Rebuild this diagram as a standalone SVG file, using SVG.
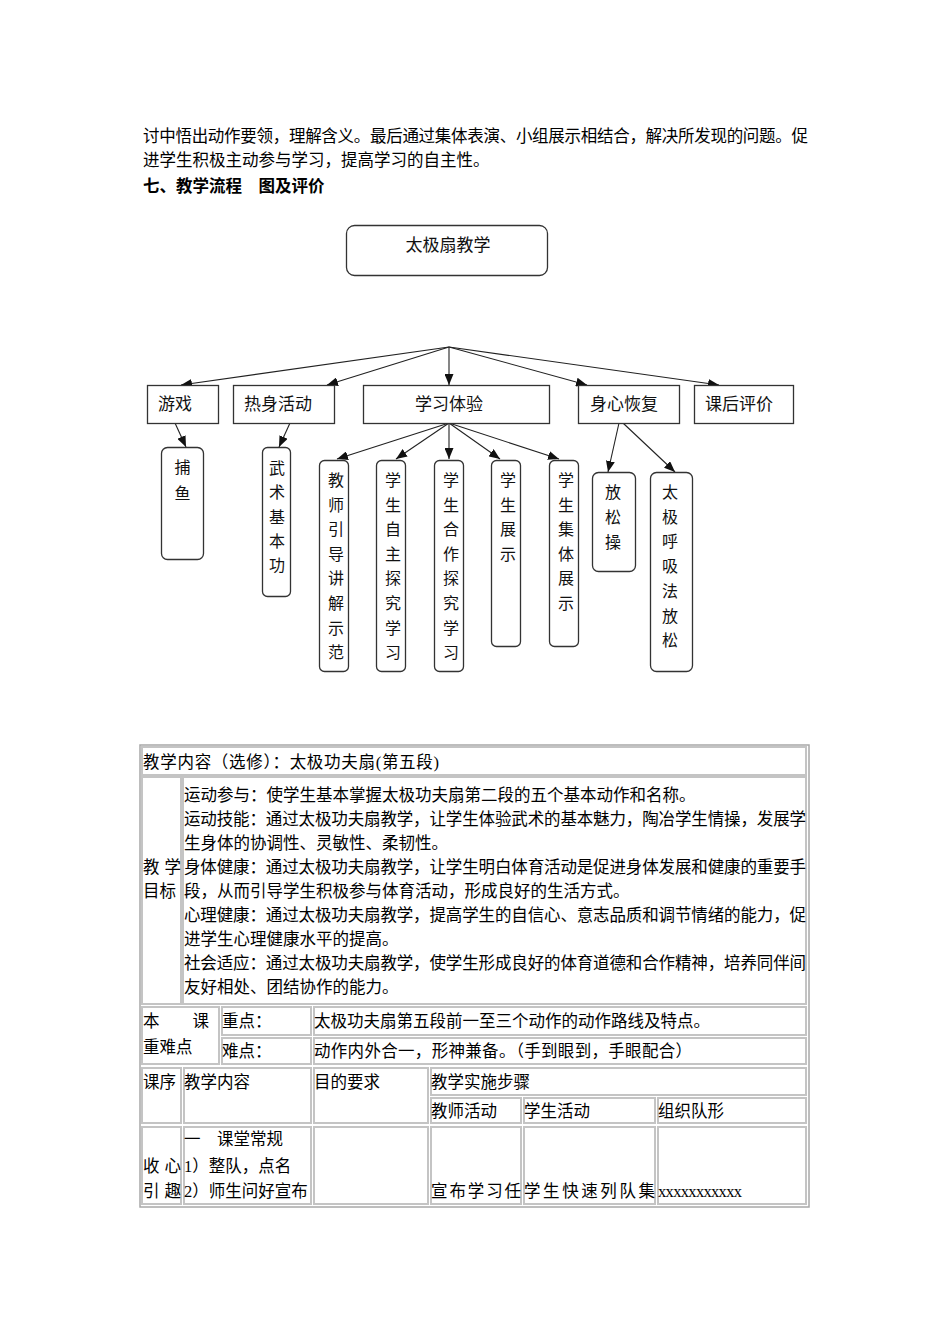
<svg xmlns="http://www.w3.org/2000/svg" width="950" height="1344" viewBox="0 0 950 1344">
<style>
.body{font-family:"Liberation Serif","Noto Sans CJK SC",serif;font-size:16.5px;fill:#000}
.bold{font-weight:bold}
.dg{font-family:"Liberation Sans","Noto Sans CJK SC",sans-serif;font-size:17px;fill:#111}
.vt{font-family:"Liberation Sans","Noto Sans CJK SC",sans-serif;font-size:16px;fill:#111;text-anchor:middle}
.box{fill:#fff;stroke:#333;stroke-width:1.3}
.edge{stroke:#222;stroke-width:1.1;fill:none;marker-end:url(#arr)}
.cell{fill:none;stroke:#c4c4c4;stroke-width:2}
.outer{fill:none;stroke:#a8a8a8;stroke-width:1.5}
</style>
<defs>
<marker id="arr" markerWidth="11" markerHeight="9" refX="11" refY="4.5" orient="auto" markerUnits="userSpaceOnUse">
<path d="M0,0 L11,4.5 L0,9 Z" fill="#111"/>
</marker>
</defs>
<rect width="950" height="1344" fill="#fff"/>

<g id="intro">
<text class="body" x="143" y="142" textLength="665" lengthAdjust="spacing">讨中悟出动作要领，理解含义。最后通过集体表演、小组展示相结合，解决所发现的问题。促</text>
<text class="body" x="143" y="166">进学生积极主动参与学习，提高学习的自主性。</text>
<text class="body bold" x="143" y="192">七、教学流程　图及评价</text>
</g>

<g id="connectors">
<line class="edge" x1="449" y1="347" x2="181" y2="385"/>
<line class="edge" x1="449" y1="347" x2="327" y2="385"/>
<line class="edge" x1="449" y1="347" x2="449" y2="385"/>
<line class="edge" x1="449" y1="347" x2="587" y2="385"/>
<line class="edge" x1="449" y1="347" x2="719" y2="385"/>
<line class="edge" x1="175" y1="423" x2="186" y2="447"/>
<line class="edge" x1="290" y1="423" x2="279" y2="447"/>
<line class="edge" x1="449" y1="423" x2="337" y2="459"/>
<line class="edge" x1="449" y1="423" x2="396" y2="459"/>
<line class="edge" x1="449" y1="423" x2="449" y2="459"/>
<line class="edge" x1="449" y1="423" x2="500" y2="459"/>
<line class="edge" x1="449" y1="423" x2="559" y2="459"/>
<line class="edge" x1="619" y1="423" x2="608" y2="472"/>
<line class="edge" x1="623" y1="423" x2="675" y2="472"/>
</g>

<g id="n-root"><rect class="box" x="346.5" y="225.5" width="201" height="50" rx="8"/><text class="dg" x="448" y="251" text-anchor="middle">太极扇教学</text></g>

<g id="n-youxi"><rect class="box" x="147.5" y="385.5" width="71" height="38"/><text class="dg" x="158" y="410">游戏</text></g>
<g id="n-reshen"><rect class="box" x="233.5" y="385.5" width="101" height="38"/><text class="dg" x="244" y="410">热身活动</text></g>
<g id="n-xuexi"><rect class="box" x="363.5" y="385.5" width="186" height="38"/><text class="dg" x="449" y="410" text-anchor="middle">学习体验</text></g>
<g id="n-shenxin"><rect class="box" x="578.5" y="385.5" width="101" height="38"/><text class="dg" x="590" y="410">身心恢复</text></g>
<g id="n-kehou"><rect class="box" x="694.5" y="385.5" width="99" height="38"/><text class="dg" x="705" y="410">课后评价</text></g>

<g id="n-buyu"><rect class="box" x="161.5" y="447.5" width="42" height="112" rx="6"/><text class="vt" x="182.5" y="473"><tspan x="182.5" dy="0">捕</tspan><tspan x="182.5" dy="26">鱼</tspan></text></g>
<g id="n-wushu"><rect class="box" x="262.5" y="447.5" width="28" height="149" rx="5"/><text class="vt" x="277" y="474"><tspan x="277" dy="0">武</tspan><tspan x="277" dy="24.3">术</tspan><tspan x="277" dy="24.3">基</tspan><tspan x="277" dy="24.3">本</tspan><tspan x="277" dy="24.3">功</tspan></text></g>
<g id="n-jiaoshi"><rect class="box" x="319.5" y="460.5" width="29" height="211" rx="5"/><text class="vt" x="336" y="486"><tspan x="336" dy="0">教</tspan><tspan x="336" dy="24.6">师</tspan><tspan x="336" dy="24.6">引</tspan><tspan x="336" dy="24.6">导</tspan><tspan x="336" dy="24.6">讲</tspan><tspan x="336" dy="24.6">解</tspan><tspan x="336" dy="24.6">示</tspan><tspan x="336" dy="24.6">范</tspan></text></g>
<g id="n-zizhu"><rect class="box" x="376.5" y="460.5" width="29" height="211" rx="5"/><text class="vt" x="393" y="486"><tspan x="393" dy="0">学</tspan><tspan x="393" dy="24.6">生</tspan><tspan x="393" dy="24.6">自</tspan><tspan x="393" dy="24.6">主</tspan><tspan x="393" dy="24.6">探</tspan><tspan x="393" dy="24.6">究</tspan><tspan x="393" dy="24.6">学</tspan><tspan x="393" dy="24.6">习</tspan></text></g>
<g id="n-hezuo"><rect class="box" x="434.5" y="460.5" width="29" height="211" rx="5"/><text class="vt" x="451" y="486"><tspan x="451" dy="0">学</tspan><tspan x="451" dy="24.6">生</tspan><tspan x="451" dy="24.6">合</tspan><tspan x="451" dy="24.6">作</tspan><tspan x="451" dy="24.6">探</tspan><tspan x="451" dy="24.6">究</tspan><tspan x="451" dy="24.6">学</tspan><tspan x="451" dy="24.6">习</tspan></text></g>
<g id="n-zhanshi"><rect class="box" x="491.5" y="460.5" width="29" height="186" rx="5"/><text class="vt" x="508" y="486"><tspan x="508" dy="0">学</tspan><tspan x="508" dy="24.6">生</tspan><tspan x="508" dy="24.6">展</tspan><tspan x="508" dy="24.6">示</tspan></text></g>
<g id="n-jiti"><rect class="box" x="549.5" y="460.5" width="29" height="186" rx="5"/><text class="vt" x="566" y="486"><tspan x="566" dy="0">学</tspan><tspan x="566" dy="24.6">生</tspan><tspan x="566" dy="24.6">集</tspan><tspan x="566" dy="24.6">体</tspan><tspan x="566" dy="24.6">展</tspan><tspan x="566" dy="24.6">示</tspan></text></g>
<g id="n-fangsong"><rect class="box" x="592.5" y="472.5" width="43" height="99" rx="6"/><text class="vt" x="613" y="498"><tspan x="613" dy="0">放</tspan><tspan x="613" dy="25">松</tspan><tspan x="613" dy="25">操</tspan></text></g>
<g id="n-huxi"><rect class="box" x="650.5" y="472.5" width="42" height="199" rx="6"/><text class="vt" x="670" y="498"><tspan x="670" dy="0">太</tspan><tspan x="670" dy="24.7">极</tspan><tspan x="670" dy="24.7">呼</tspan><tspan x="670" dy="24.7">吸</tspan><tspan x="670" dy="24.7">法</tspan><tspan x="670" dy="24.7">放</tspan><tspan x="670" dy="24.7">松</tspan></text></g>

<g id="table">
<rect class="outer" x="140" y="745" width="669" height="462"/>
<rect class="cell" x="142" y="747" width="664" height="28"/>
<rect class="cell" x="142" y="777" width="39" height="227"/>
<rect class="cell" x="183" y="777" width="623" height="227"/>
<rect class="cell" x="142" y="1007" width="77" height="57"/>
<rect class="cell" x="222" y="1007" width="89" height="28"/>
<rect class="cell" x="314" y="1007" width="492" height="28"/>
<rect class="cell" x="222" y="1038" width="89" height="26"/>
<rect class="cell" x="314" y="1038" width="492" height="26"/>
<rect class="cell" x="142" y="1068" width="39" height="55"/>
<rect class="cell" x="184" y="1068" width="127" height="55"/>
<rect class="cell" x="314" y="1068" width="114" height="55"/>
<rect class="cell" x="431" y="1068" width="375" height="27"/>
<rect class="cell" x="431" y="1098" width="90" height="25"/>
<rect class="cell" x="524" y="1098" width="131" height="25"/>
<rect class="cell" x="658" y="1098" width="148" height="25"/>
<rect class="cell" x="142" y="1127" width="39" height="77"/>
<rect class="cell" x="184" y="1127" width="127" height="77"/>
<rect class="cell" x="314" y="1127" width="114" height="77"/>
<rect class="cell" x="431" y="1127" width="90" height="77"/>
<rect class="cell" x="524" y="1127" width="131" height="77"/>
<rect class="cell" x="658" y="1127" width="148" height="77"/>

<text class="body" x="143" y="768" textLength="296" lengthAdjust="spacing">教学内容（选修）：太极功夫扇(第五段)</text>

<text class="body" x="143" y="873" textLength="38" lengthAdjust="spacing">教学</text>
<text class="body" x="143" y="897">目标</text>

<text class="body" x="184" y="801">运动参与：使学生基本掌握太极功夫扇第二段的五个基本动作和名称。</text>
<text class="body" x="184" y="825" textLength="622" lengthAdjust="spacing">运动技能：通过太极功夫扇教学，让学生体验武术的基本魅力，陶冶学生情操，发展学</text>
<text class="body" x="184" y="849">生身体的协调性、灵敏性、柔韧性。</text>
<text class="body" x="184" y="873" textLength="622" lengthAdjust="spacing">身体健康：通过太极功夫扇教学，让学生明白体育活动是促进身体发展和健康的重要手</text>
<text class="body" x="184" y="897">段，从而引导学生积极参与体育活动，形成良好的生活方式。</text>
<text class="body" x="184" y="921" textLength="622" lengthAdjust="spacing">心理健康：通过太极功夫扇教学，提高学生的自信心、意志品质和调节情绪的能力，促</text>
<text class="body" x="184" y="945">进学生心理健康水平的提高。</text>
<text class="body" x="184" y="969" textLength="622" lengthAdjust="spacing">社会适应：通过太极功夫扇教学，使学生形成良好的体育道德和合作精神，培养同伴间</text>
<text class="body" x="184" y="993">友好相处、团结协作的能力。</text>

<text class="body" x="143" y="1027">本　　课</text>
<text class="body" x="143" y="1053">重难点</text>
<text class="body" x="222" y="1027">重点：</text>
<text class="body" x="222" y="1057">难点：</text>
<text class="body" x="314" y="1027">太极功夫扇第五段前一至三个动作的动作路线及特点。</text>
<text class="body" x="314" y="1057" textLength="378" lengthAdjust="spacing">动作内外合一，形神兼备。（手到眼到，手眼配合）</text>

<text class="body" x="143" y="1088">课序</text>
<text class="body" x="184" y="1088">教学内容</text>
<text class="body" x="314" y="1088">目的要求</text>
<text class="body" x="431" y="1088">教学实施步骤</text>
<text class="body" x="431" y="1117">教师活动</text>
<text class="body" x="524" y="1117">学生活动</text>
<text class="body" x="658" y="1117">组织队形</text>

<text class="body" x="184" y="1145">一　课堂常规</text>
<text class="body" x="184" y="1172">1）整队，点名</text>
<text class="body" x="184" y="1197">2）师生问好宣布</text>
<text class="body" x="143" y="1172" textLength="38" lengthAdjust="spacing">收心</text>
<text class="body" x="143" y="1197" textLength="38" lengthAdjust="spacing">引趣</text>
<text class="body" x="431" y="1197" textLength="90" lengthAdjust="spacing">宣布学习任</text>
<text class="body" x="524" y="1197" textLength="131" lengthAdjust="spacing">学生快速列队集</text>
<text class="body" x="658" y="1197" textLength="84" lengthAdjust="spacing">xxxxxxxxxxx</text>
</g>
</svg>
